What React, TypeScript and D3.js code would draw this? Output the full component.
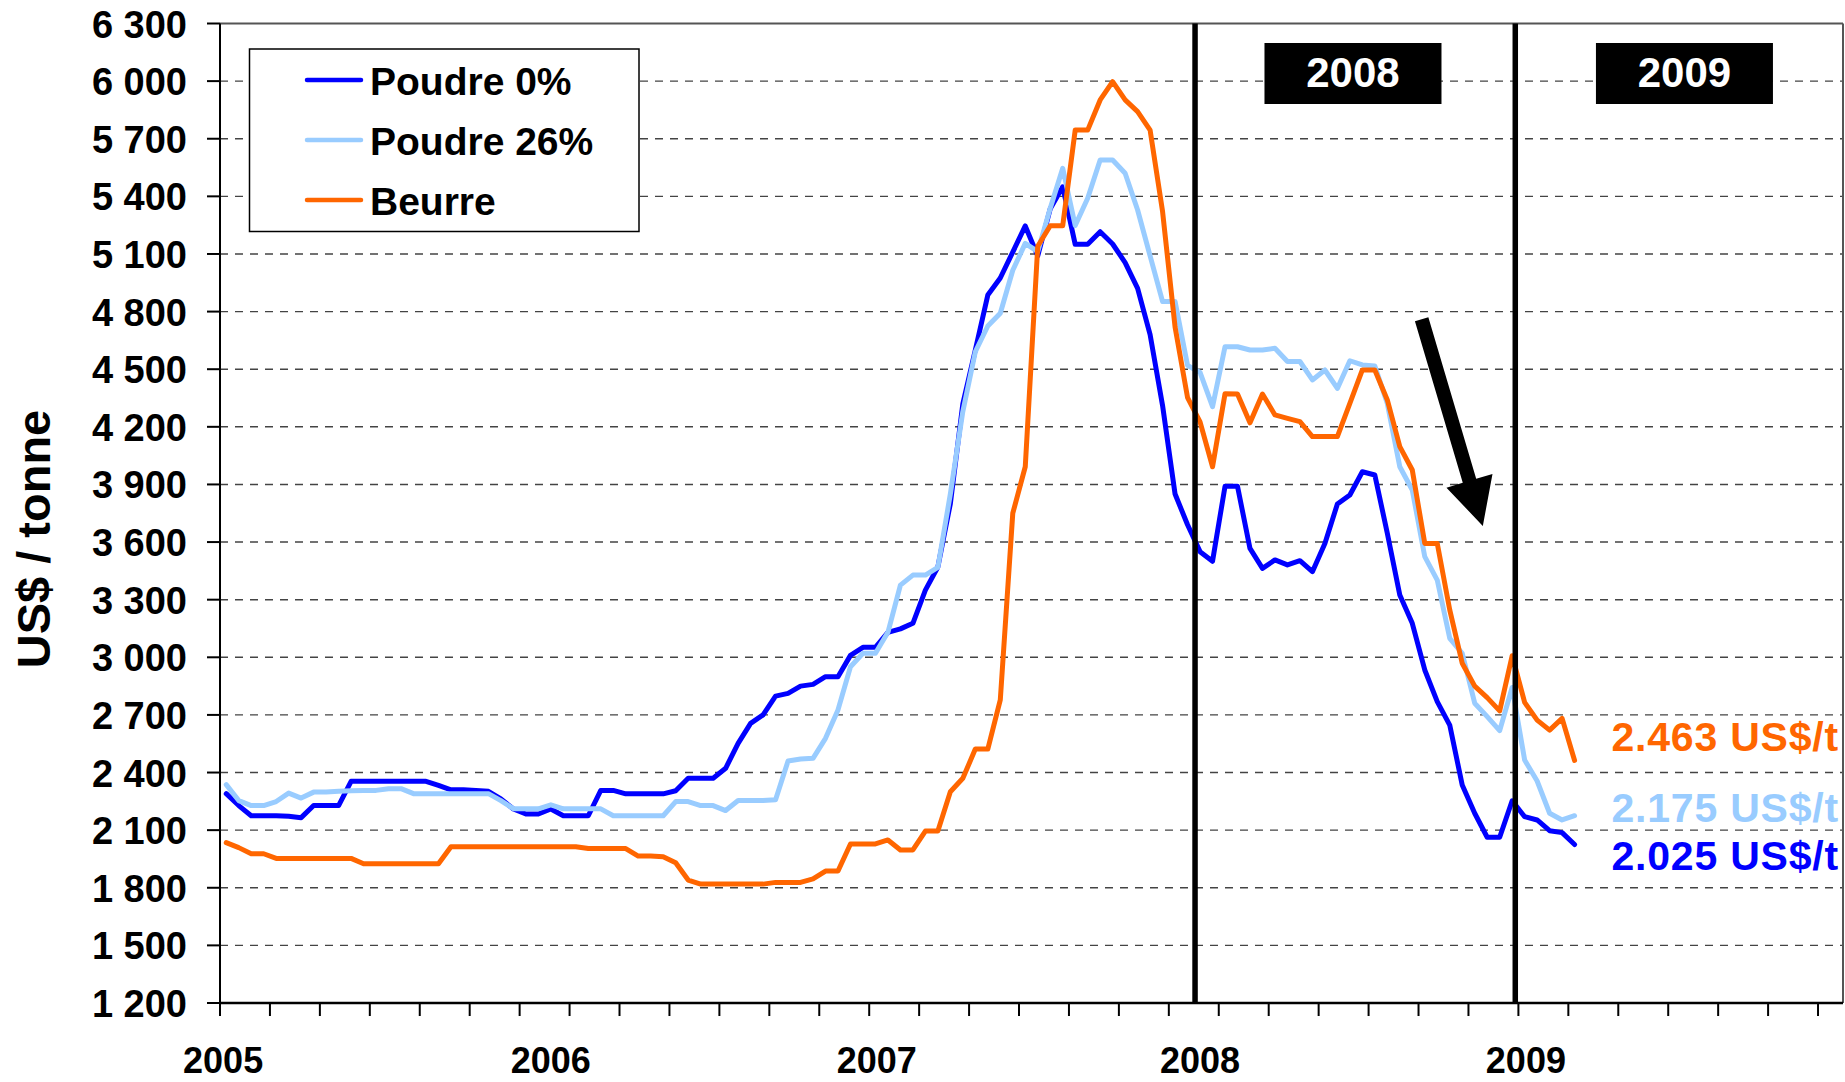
import React from 'react';
import * as d3 from 'd3';

const W = 1845;
const H = 1082;

// Biweekly observations; position counted in weeks from the first week of 2005
const weeks: number[] = d3.range(109).map((i) => 1 + 2 * i);

const poudre0: number[] = [
  2290, 2228, 2175, 2175, 2175, 2172, 2165, 2228, 2228, 2228,
  2354, 2354, 2354, 2354, 2354, 2354, 2354, 2333, 2310, 2310,
  2307, 2302, 2263, 2210, 2184, 2184, 2210, 2175, 2175, 2175,
  2307, 2307, 2289, 2289, 2289, 2289, 2305, 2370, 2370, 2370,
  2422, 2552, 2656, 2700, 2798, 2812, 2850, 2859, 2899, 2899,
  3010, 3052, 3052, 3130, 3148, 3177, 3350, 3470, 3800, 4320,
  4600, 4886, 4975, 5110, 5246, 5090, 5335, 5450, 5150, 5150,
  5216, 5152, 5055, 4921, 4680, 4310, 3850, 3690, 3550, 3500,
  3890, 3890, 3567, 3463, 3507, 3481, 3503, 3446, 3593, 3798,
  3845, 3966, 3949, 3646, 3324, 3177, 2934, 2769, 2647, 2335,
  2188, 2063, 2063, 2253, 2170, 2153, 2097, 2087, 2025,
];

const poudre26: number[] = [
  2337, 2254, 2228, 2228, 2249, 2293, 2267, 2298, 2298, 2302,
  2305, 2307, 2307, 2316, 2316, 2290, 2290, 2290, 2290, 2290,
  2290, 2290, 2254, 2212, 2211, 2211, 2232, 2211, 2211, 2211,
  2211, 2175, 2175, 2175, 2175, 2175, 2249, 2249, 2228, 2228,
  2202, 2254, 2254, 2254, 2258, 2460, 2470, 2474, 2578, 2726,
  2951, 3021, 3021, 3130, 3376, 3428, 3428, 3468, 3850, 4280,
  4591, 4725, 4791, 5015, 5155, 5112, 5338, 5546, 5248, 5390,
  5589, 5589, 5520, 5329, 5090, 4852, 4852, 4520, 4483, 4305,
  4617, 4617, 4600, 4600, 4609, 4540, 4540, 4444, 4496, 4400,
  4544, 4522, 4517, 4322, 3992, 3871, 3524, 3402, 3099, 3021,
  2761, 2691, 2618, 2843, 2465, 2356, 2188, 2153, 2175,
];

const beurre: number[] = [
  2035, 2009, 1977, 1977, 1953, 1953, 1953, 1953, 1953, 1953,
  1953, 1925, 1925, 1925, 1925, 1925, 1925, 1925, 2014, 2014,
  2014, 2014, 2014, 2014, 2014, 2014, 2014, 2014, 2014, 2004,
  2004, 2004, 2004, 1965, 1965, 1962, 1930, 1840, 1819, 1819,
  1819, 1819, 1819, 1819, 1828, 1828, 1828, 1846, 1887, 1887,
  2028, 2028, 2028, 2049, 1997, 1997, 2095, 2095, 2300, 2370,
  2522, 2522, 2778, 3750, 3992, 5140, 5247, 5247, 5745, 5745,
  5902, 5997, 5902, 5841, 5745, 5320, 4720, 4352, 4226, 3992,
  4372, 4371, 4221, 4371, 4262, 4244, 4227, 4149, 4149, 4149,
  4322, 4496, 4496, 4340, 4097, 3975, 3593, 3593, 3247, 2969,
  2850, 2790, 2721, 3008, 2765, 2673, 2621, 2682, 2463,
];

const seriesNames = ['Poudre 0%', 'Poudre 26%', 'Beurre'];
const seriesColors = ['#0000FF', '#99CCFF', '#FF6600'];
const seriesValues = [poudre0, poudre26, beurre];

const yTicks: number[] = d3.range(1200, 6301, 300);
const xTickWeeks: number[] = d3.range(0, 257, 8);
const yearLabels = ['2005', '2006', '2007', '2008', '2009'];
const yearLabelWeeks = [0.5, 53, 105.2, 157, 209.2];
const dividerWeeks = [156.2, 207.5];
const boxLabels = ['2008', '2009'];
const boxWeeks = [181.5, 234.6];
const endTexts = ['2.463 US$/t', '2.175 US$/t', '2.025 US$/t'];
const endColors = ['#FF6600', '#99CCFF', '#0000FF'];
// vertical placement of the end labels, in chart value units
const endAt = [2512, 2140, 1890];
// arrow annotation, in (week, value)
const arrowFrom = [192.5, 4760];
const arrowTo = [202.3, 3684];

const FONT = '"Liberation Sans", Arial, Helvetica, sans-serif';

export default function App() {
  const x = d3.scaleLinear().domain([0, 260]).range([220, 1843]);
  const y = d3.scaleLinear().domain([1200, 6300]).range([1003, 23.5]);
  const fmt = (v: number) => d3.format(',')(v).replace(/,/g, ' ');

  const line = d3
    .line<number>()
    .x((_, i) => x(weeks[i]))
    .y((d) => y(d));

  // arrow polygon
  const x1 = x(arrowFrom[0]);
  const y1 = y(arrowFrom[1]);
  const x2 = x(arrowTo[0]);
  const y2 = y(arrowTo[1]);
  const len = Math.hypot(x2 - x1, y2 - y1);
  const ux = (x2 - x1) / len;
  const uy = (y2 - y1) / len;
  const nx = -uy;
  const ny = ux;
  const headLen = 47;
  const headHalf = 24;
  const shaftHalf = 7;
  const bx = x2 - ux * headLen;
  const by = y2 - uy * headLen;
  const pts = [
    [x1 + nx * shaftHalf, y1 + ny * shaftHalf],
    [bx + nx * shaftHalf, by + ny * shaftHalf],
    [bx + nx * headHalf, by + ny * headHalf],
    [x2, y2],
    [bx - nx * headHalf, by - ny * headHalf],
    [bx - nx * shaftHalf, by - ny * shaftHalf],
    [x1 - nx * shaftHalf, y1 - ny * shaftHalf],
  ];
  const arrowPath = pts.map((p) => p.join(',')).join(' ');

  const x0 = x(0);
  const xEnd = x(260);
  const yTop = y(6300);
  const yBot = y(1200);

  return (
    <svg
      width={W}
      height={H}
      viewBox={`0 0 ${W} ${H}`}
      style={{ position: 'absolute', left: 0, top: 0, display: 'block', background: '#fff' }}
      fontFamily={FONT}
      fontWeight="bold"
    >
      <rect x={0} y={0} width={W} height={H} fill="#fff" />
      {/* gridlines */}
      {yTicks
        .filter((v) => v > 1200 && v < 6300)
        .map((v) => (
          <line
            key={'g' + v}
            x1={x0}
            x2={xEnd}
            y1={y(v)}
            y2={y(v)}
            stroke="#444"
            strokeWidth={1.4}
            strokeDasharray="8,7"
          />
        ))}
      {/* frame top & right */}
      <line x1={x0} x2={xEnd} y1={yTop} y2={yTop} stroke="#555" strokeWidth={2} />
      <line x1={xEnd} x2={xEnd} y1={yTop} y2={yBot} stroke="#555" strokeWidth={2} />

      {/* series */}
      {seriesValues.map((vals, k) => (
        <path
          key={'s' + k}
          d={line(vals) || ''}
          fill="none"
          stroke={seriesColors[k]}
          strokeWidth={5}
          strokeLinejoin="round"
          strokeLinecap="round"
        />
      ))}

      {/* year dividers */}
      {dividerWeeks.map((w) => (
        <line key={'d' + w} x1={x(w)} x2={x(w)} y1={yTop} y2={yBot} stroke="#000" strokeWidth={5.5} />
      ))}

      {/* year boxes */}
      {boxLabels.map((lab, k) => (
        <g key={'b' + lab}>
          <rect x={x(boxWeeks[k]) - 88.5} y={43} width={177} height={61} fill="#000" />
          <text x={x(boxWeeks[k])} y={87} textAnchor="middle" fill="#fff" fontSize={42}>
            {lab}
          </text>
        </g>
      ))}

      {/* arrow */}
      <polygon points={arrowPath} fill="#000" />

      {/* axes */}
      <line x1={x0} x2={x0} y1={yTop} y2={yBot} stroke="#000" strokeWidth={2} />
      <line x1={x0} x2={xEnd} y1={yBot} y2={yBot} stroke="#000" strokeWidth={2.5} />
      {yTicks.map((v) => (
        <g key={'yt' + v}>
          <line x1={x0 - 13} x2={x0} y1={y(v)} y2={y(v)} stroke="#000" strokeWidth={2} />
          <text x={187} y={y(v) + 14} textAnchor="end" fontSize={38} fill="#000">
            {fmt(v)}
          </text>
        </g>
      ))}
      {xTickWeeks.map((w) => (
        <line key={'xt' + w} x1={x(w)} x2={x(w)} y1={yBot} y2={yBot + 13} stroke="#000" strokeWidth={2} />
      ))}
      {yearLabels.map((lab, k) => (
        <text key={'yl' + lab} x={x(yearLabelWeeks[k])} y={1073} textAnchor="middle" fontSize={36} fill="#000">
          {lab}
        </text>
      ))}

      {/* y title */}
      <text
        transform="translate(50,539) rotate(-90)"
        textAnchor="middle"
        fontSize={47}
        fill="#000"
      >
        US$ / tonne
      </text>

      {/* end labels */}
      {endTexts.map((t, k) => (
        <text
          key={'e' + k}
          x={1839}
          y={y(endAt[k])}
          textAnchor="end"
          fontSize={41}
          letterSpacing={0.8}
          fill={endColors[k]}
        >
          {t}
        </text>
      ))}

      {/* legend */}
      <rect x={249.5} y={49} width={389.5} height={182.5} fill="#fff" stroke="#000" strokeWidth={1.5} />
      {seriesNames.map((name, k) => (
        <g key={'l' + k}>
          <line
            x1={307}
            x2={361}
            y1={80 + k * 60}
            y2={80 + k * 60}
            stroke={seriesColors[k]}
            strokeWidth={4.5}
            strokeLinecap="round"
          />
          <text x={370} y={95 + k * 60} fontSize={39} fill="#000">
            {name}
          </text>
        </g>
      ))}
    </svg>
  );
}
